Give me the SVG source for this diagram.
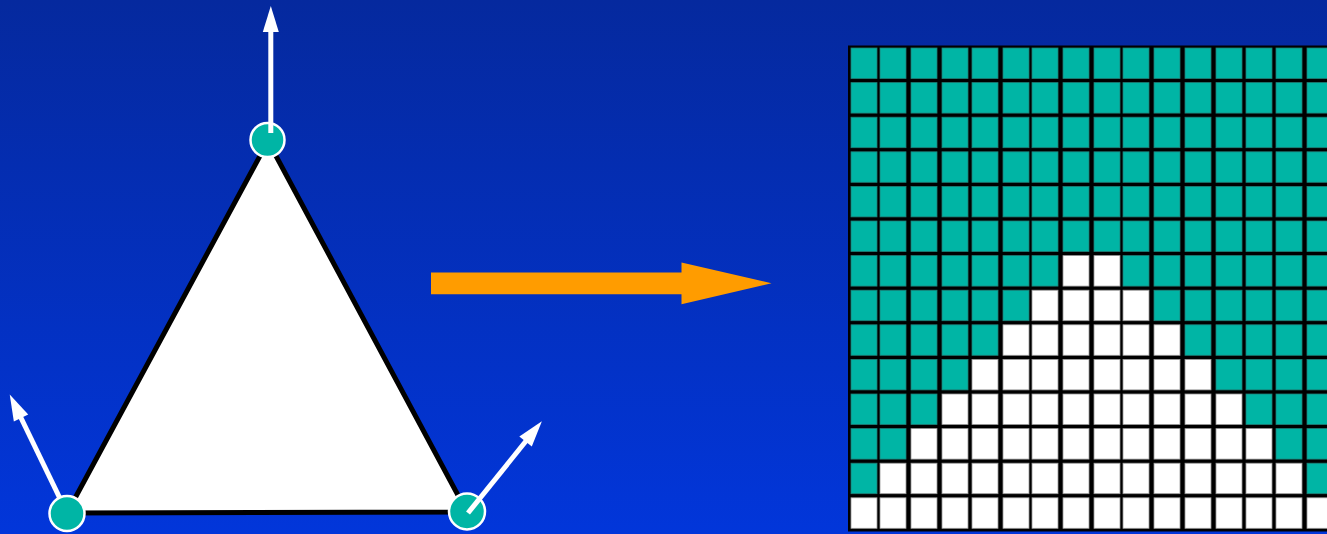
<svg xmlns="http://www.w3.org/2000/svg" width="1327" height="534" viewBox="0 0 1327 534">
<defs>
<linearGradient id="bg" x1="0" y1="0" x2="0" y2="1">
<stop offset="0" stop-color="#05299E"/>
<stop offset="1" stop-color="#0236DA"/>
</linearGradient>
<marker id="wh" markerUnits="userSpaceOnUse" markerWidth="30" markerHeight="20" viewBox="0 -10 28 20" refX="1" refY="0" orient="auto">
<path d="M0,-8 L26,0 L0,8 z" fill="#FFFFFF"/>
</marker>
</defs>
<style>
.t{fill:#00B5A5;stroke:#1E7F77;stroke-width:0.8}
.w{fill:#FFFFFF;stroke:#9A9A9A;stroke-width:0.8}
.vec{stroke:#FFFFFF;stroke-width:5;fill:none;marker-end:url(#wh)}
.vtx{fill:#00B5A5;stroke:#FFFFFF;stroke-width:2.5}
</style>
<rect width="1327" height="534" fill="url(#bg)"/>

<g id="triangle">
<polygon points="268,141 67,513 467,512" fill="#FFFFFF" stroke="#000000" stroke-width="5" stroke-linejoin="miter"/>
</g>

<g id="connectors">
<line class="vec" x1="67" y1="513" x2="20.6" y2="417"/>
<polygon id="transform-arrow" points="431,272.5 681.5,272.5 681.5,262.5 771.5,283.3 681.5,304.3 681.5,294.3 431,294.3" fill="#FF9C00"/>
</g>

<g id="vertex-left">
<circle class="vtx" cx="67" cy="513.5" r="17.5"/>
</g>
<g id="vertex-top">
<circle class="vtx" cx="267.5" cy="140" r="17"/>
<line class="vec" x1="270.8" y1="133" x2="270.8" y2="31"/>
</g>
<g id="vertex-right">
<circle class="vtx" cx="467" cy="511.5" r="18"/>
<line class="vec" x1="468" y1="513" x2="526.2" y2="440.8"/>
</g>

<g id="grid">
<rect x="848" y="45.5" width="482" height="486" fill="#000000"/>
<g transform="translate(0,48)"><rect class="t" x="851" width="26" height="30.5"/><rect class="t" x="880" width="26" height="30.5"/><rect class="t" x="911" width="26" height="30.5"/><rect class="t" x="942" width="26" height="30.5"/><rect class="t" x="972" width="26" height="30.5"/><rect class="t" x="1003" width="26" height="30.5"/><rect class="t" x="1032" width="26" height="30.5"/><rect class="t" x="1063" width="26" height="30.5"/><rect class="t" x="1094" width="26" height="30.5"/><rect class="t" x="1123" width="26" height="30.5"/><rect class="t" x="1154" width="26" height="30.5"/><rect class="t" x="1185" width="26" height="30.5"/><rect class="t" x="1216" width="26" height="30.5"/><rect class="t" x="1246" width="26" height="30.5"/><rect class="t" x="1276" width="26" height="30.5"/><rect class="t" x="1307" width="26" height="30.5"/></g>
<g transform="translate(0,82.6)"><rect class="t" x="851" width="26" height="30.5"/><rect class="t" x="880" width="26" height="30.5"/><rect class="t" x="911" width="26" height="30.5"/><rect class="t" x="942" width="26" height="30.5"/><rect class="t" x="972" width="26" height="30.5"/><rect class="t" x="1003" width="26" height="30.5"/><rect class="t" x="1032" width="26" height="30.5"/><rect class="t" x="1063" width="26" height="30.5"/><rect class="t" x="1094" width="26" height="30.5"/><rect class="t" x="1123" width="26" height="30.5"/><rect class="t" x="1154" width="26" height="30.5"/><rect class="t" x="1185" width="26" height="30.5"/><rect class="t" x="1216" width="26" height="30.5"/><rect class="t" x="1246" width="26" height="30.5"/><rect class="t" x="1276" width="26" height="30.5"/><rect class="t" x="1307" width="26" height="30.5"/></g>
<g transform="translate(0,117.2)"><rect class="t" x="851" width="26" height="30.5"/><rect class="t" x="880" width="26" height="30.5"/><rect class="t" x="911" width="26" height="30.5"/><rect class="t" x="942" width="26" height="30.5"/><rect class="t" x="972" width="26" height="30.5"/><rect class="t" x="1003" width="26" height="30.5"/><rect class="t" x="1032" width="26" height="30.5"/><rect class="t" x="1063" width="26" height="30.5"/><rect class="t" x="1094" width="26" height="30.5"/><rect class="t" x="1123" width="26" height="30.5"/><rect class="t" x="1154" width="26" height="30.5"/><rect class="t" x="1185" width="26" height="30.5"/><rect class="t" x="1216" width="26" height="30.5"/><rect class="t" x="1246" width="26" height="30.5"/><rect class="t" x="1276" width="26" height="30.5"/><rect class="t" x="1307" width="26" height="30.5"/></g>
<g transform="translate(0,151.8)"><rect class="t" x="851" width="26" height="30.5"/><rect class="t" x="880" width="26" height="30.5"/><rect class="t" x="911" width="26" height="30.5"/><rect class="t" x="942" width="26" height="30.5"/><rect class="t" x="972" width="26" height="30.5"/><rect class="t" x="1003" width="26" height="30.5"/><rect class="t" x="1032" width="26" height="30.5"/><rect class="t" x="1063" width="26" height="30.5"/><rect class="t" x="1094" width="26" height="30.5"/><rect class="t" x="1123" width="26" height="30.5"/><rect class="t" x="1154" width="26" height="30.5"/><rect class="t" x="1185" width="26" height="30.5"/><rect class="t" x="1216" width="26" height="30.5"/><rect class="t" x="1246" width="26" height="30.5"/><rect class="t" x="1276" width="26" height="30.5"/><rect class="t" x="1307" width="26" height="30.5"/></g>
<g transform="translate(0,186.4)"><rect class="t" x="851" width="26" height="30.5"/><rect class="t" x="880" width="26" height="30.5"/><rect class="t" x="911" width="26" height="30.5"/><rect class="t" x="942" width="26" height="30.5"/><rect class="t" x="972" width="26" height="30.5"/><rect class="t" x="1003" width="26" height="30.5"/><rect class="t" x="1032" width="26" height="30.5"/><rect class="t" x="1063" width="26" height="30.5"/><rect class="t" x="1094" width="26" height="30.5"/><rect class="t" x="1123" width="26" height="30.5"/><rect class="t" x="1154" width="26" height="30.5"/><rect class="t" x="1185" width="26" height="30.5"/><rect class="t" x="1216" width="26" height="30.5"/><rect class="t" x="1246" width="26" height="30.5"/><rect class="t" x="1276" width="26" height="30.5"/><rect class="t" x="1307" width="26" height="30.5"/></g>
<g transform="translate(0,221)"><rect class="t" x="851" width="26" height="30.5"/><rect class="t" x="880" width="26" height="30.5"/><rect class="t" x="911" width="26" height="30.5"/><rect class="t" x="942" width="26" height="30.5"/><rect class="t" x="972" width="26" height="30.5"/><rect class="t" x="1003" width="26" height="30.5"/><rect class="t" x="1032" width="26" height="30.5"/><rect class="t" x="1063" width="26" height="30.5"/><rect class="t" x="1094" width="26" height="30.5"/><rect class="t" x="1123" width="26" height="30.5"/><rect class="t" x="1154" width="26" height="30.5"/><rect class="t" x="1185" width="26" height="30.5"/><rect class="t" x="1216" width="26" height="30.5"/><rect class="t" x="1246" width="26" height="30.5"/><rect class="t" x="1276" width="26" height="30.5"/><rect class="t" x="1307" width="26" height="30.5"/></g>
<g transform="translate(0,255.6)"><rect class="t" x="851" width="26" height="30.5"/><rect class="t" x="880" width="26" height="30.5"/><rect class="t" x="911" width="26" height="30.5"/><rect class="t" x="942" width="26" height="30.5"/><rect class="t" x="972" width="26" height="30.5"/><rect class="t" x="1003" width="26" height="30.5"/><rect class="t" x="1032" width="26" height="30.5"/><rect class="w" x="1063" width="26" height="30.5"/><rect class="w" x="1094" width="26" height="30.5"/><rect class="t" x="1123" width="26" height="30.5"/><rect class="t" x="1154" width="26" height="30.5"/><rect class="t" x="1185" width="26" height="30.5"/><rect class="t" x="1216" width="26" height="30.5"/><rect class="t" x="1246" width="26" height="30.5"/><rect class="t" x="1276" width="26" height="30.5"/><rect class="t" x="1307" width="26" height="30.5"/></g>
<g transform="translate(0,290.2)"><rect class="t" x="851" width="26" height="30.5"/><rect class="t" x="880" width="26" height="30.5"/><rect class="t" x="911" width="26" height="30.5"/><rect class="t" x="942" width="26" height="30.5"/><rect class="t" x="972" width="26" height="30.5"/><rect class="t" x="1003" width="26" height="30.5"/><rect class="w" x="1032" width="26" height="30.5"/><rect class="w" x="1063" width="26" height="30.5"/><rect class="w" x="1094" width="26" height="30.5"/><rect class="w" x="1123" width="26" height="30.5"/><rect class="t" x="1154" width="26" height="30.5"/><rect class="t" x="1185" width="26" height="30.5"/><rect class="t" x="1216" width="26" height="30.5"/><rect class="t" x="1246" width="26" height="30.5"/><rect class="t" x="1276" width="26" height="30.5"/><rect class="t" x="1307" width="26" height="30.5"/></g>
<g transform="translate(0,324.8)"><rect class="t" x="851" width="26" height="30.5"/><rect class="t" x="880" width="26" height="30.5"/><rect class="t" x="911" width="26" height="30.5"/><rect class="t" x="942" width="26" height="30.5"/><rect class="t" x="972" width="26" height="30.5"/><rect class="w" x="1003" width="26" height="30.5"/><rect class="w" x="1032" width="26" height="30.5"/><rect class="w" x="1063" width="26" height="30.5"/><rect class="w" x="1094" width="26" height="30.5"/><rect class="w" x="1123" width="26" height="30.5"/><rect class="w" x="1154" width="26" height="30.5"/><rect class="t" x="1185" width="26" height="30.5"/><rect class="t" x="1216" width="26" height="30.5"/><rect class="t" x="1246" width="26" height="30.5"/><rect class="t" x="1276" width="26" height="30.5"/><rect class="t" x="1307" width="26" height="30.5"/></g>
<g transform="translate(0,359.4)"><rect class="t" x="851" width="26" height="30.5"/><rect class="t" x="880" width="26" height="30.5"/><rect class="t" x="911" width="26" height="30.5"/><rect class="t" x="942" width="26" height="30.5"/><rect class="w" x="972" width="26" height="30.5"/><rect class="w" x="1003" width="26" height="30.5"/><rect class="w" x="1032" width="26" height="30.5"/><rect class="w" x="1063" width="26" height="30.5"/><rect class="w" x="1094" width="26" height="30.5"/><rect class="w" x="1123" width="26" height="30.5"/><rect class="w" x="1154" width="26" height="30.5"/><rect class="w" x="1185" width="26" height="30.5"/><rect class="t" x="1216" width="26" height="30.5"/><rect class="t" x="1246" width="26" height="30.5"/><rect class="t" x="1276" width="26" height="30.5"/><rect class="t" x="1307" width="26" height="30.5"/></g>
<g transform="translate(0,394)"><rect class="t" x="851" width="26" height="30.5"/><rect class="t" x="880" width="26" height="30.5"/><rect class="t" x="911" width="26" height="30.5"/><rect class="w" x="942" width="26" height="30.5"/><rect class="w" x="972" width="26" height="30.5"/><rect class="w" x="1003" width="26" height="30.5"/><rect class="w" x="1032" width="26" height="30.5"/><rect class="w" x="1063" width="26" height="30.5"/><rect class="w" x="1094" width="26" height="30.5"/><rect class="w" x="1123" width="26" height="30.5"/><rect class="w" x="1154" width="26" height="30.5"/><rect class="w" x="1185" width="26" height="30.5"/><rect class="w" x="1216" width="26" height="30.5"/><rect class="t" x="1246" width="26" height="30.5"/><rect class="t" x="1276" width="26" height="30.5"/><rect class="t" x="1307" width="26" height="30.5"/></g>
<g transform="translate(0,428.6)"><rect class="t" x="851" width="26" height="30.5"/><rect class="t" x="880" width="26" height="30.5"/><rect class="w" x="911" width="26" height="30.5"/><rect class="w" x="942" width="26" height="30.5"/><rect class="w" x="972" width="26" height="30.5"/><rect class="w" x="1003" width="26" height="30.5"/><rect class="w" x="1032" width="26" height="30.5"/><rect class="w" x="1063" width="26" height="30.5"/><rect class="w" x="1094" width="26" height="30.5"/><rect class="w" x="1123" width="26" height="30.5"/><rect class="w" x="1154" width="26" height="30.5"/><rect class="w" x="1185" width="26" height="30.5"/><rect class="w" x="1216" width="26" height="30.5"/><rect class="w" x="1246" width="26" height="30.5"/><rect class="t" x="1276" width="26" height="30.5"/><rect class="t" x="1307" width="26" height="30.5"/></g>
<g transform="translate(0,463.2)"><rect class="t" x="851" width="26" height="30.5"/><rect class="w" x="880" width="26" height="30.5"/><rect class="w" x="911" width="26" height="30.5"/><rect class="w" x="942" width="26" height="30.5"/><rect class="w" x="972" width="26" height="30.5"/><rect class="w" x="1003" width="26" height="30.5"/><rect class="w" x="1032" width="26" height="30.5"/><rect class="w" x="1063" width="26" height="30.5"/><rect class="w" x="1094" width="26" height="30.5"/><rect class="w" x="1123" width="26" height="30.5"/><rect class="w" x="1154" width="26" height="30.5"/><rect class="w" x="1185" width="26" height="30.5"/><rect class="w" x="1216" width="26" height="30.5"/><rect class="w" x="1246" width="26" height="30.5"/><rect class="w" x="1276" width="26" height="30.5"/><rect class="t" x="1307" width="26" height="30.5"/></g>
<g transform="translate(0,497.8)"><rect class="w" x="851" width="26" height="30.5"/><rect class="w" x="880" width="26" height="30.5"/><rect class="w" x="911" width="26" height="30.5"/><rect class="w" x="942" width="26" height="30.5"/><rect class="w" x="972" width="26" height="30.5"/><rect class="w" x="1003" width="26" height="30.5"/><rect class="w" x="1032" width="26" height="30.5"/><rect class="w" x="1063" width="26" height="30.5"/><rect class="w" x="1094" width="26" height="30.5"/><rect class="w" x="1123" width="26" height="30.5"/><rect class="w" x="1154" width="26" height="30.5"/><rect class="w" x="1185" width="26" height="30.5"/><rect class="w" x="1216" width="26" height="30.5"/><rect class="w" x="1246" width="26" height="30.5"/><rect class="w" x="1276" width="26" height="30.5"/><rect class="w" x="1307" width="26" height="30.5"/></g>
</g>
</svg>
